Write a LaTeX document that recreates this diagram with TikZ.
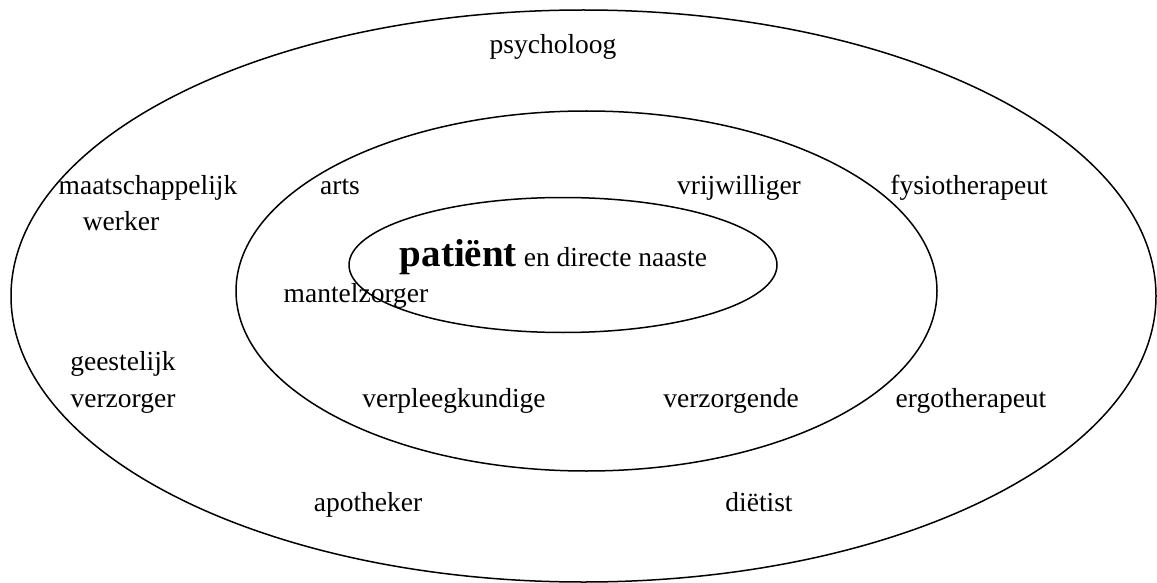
\documentclass[tikz,border=0pt]{standalone}
\usepackage{fontspec}
\setmainfont{Liberation Serif}
\begin{document}
\begin{tikzpicture}[x=1pt,y=-1pt,
  ring/.style={draw=black,line width=1.5pt},
  lbl/.style={anchor=base,inner sep=0pt,font=\fontsize{27.5}{36}\selectfont,align=center}]
\useasboundingbox (0,0) rectangle (1157,583);
\draw[ring] (583.5,296) ellipse [x radius=572.5pt, y radius=286pt];
\draw[ring] (586.5,291) ellipse [x radius=350.5pt, y radius=180pt];
\draw[ring] (563,265) ellipse [x radius=214pt, y radius=67.5pt];
\node[lbl] (psy) at (553,54) {psycholoog};
\node[lbl] (maat) at (148,194) {maatschappelijk};
\node[lbl] (werk) at (121,230) {werker};
\node[lbl] (arts) at (340,194) {arts};
\node[lbl] (vrij) at (739,194) {vrijwilliger};
\node[lbl] (fys) at (969,194) {fysiotherapeut};
\node[lbl] (pat) at (553.5,266) {{\bfseries\fontsize{39}{44}\selectfont patiënt} en directe naaste};
\node[lbl] (mant) at (356,302) {mantelzorger};
\node[lbl] (gees) at (123,370) {geestelijk};
\node[lbl] (verz) at (123,407) {verzorger};
\node[lbl] (verp) at (454,407) {verpleegkundige};
\node[lbl] (vzg) at (731,407) {verzorgende};
\node[lbl] (ergo) at (971,407) {ergotherapeut};
\node[lbl] (apo) at (368,511) {apotheker};
\node[lbl] (diet) at (759,511) {diëtist};
\end{tikzpicture}
\end{document}
